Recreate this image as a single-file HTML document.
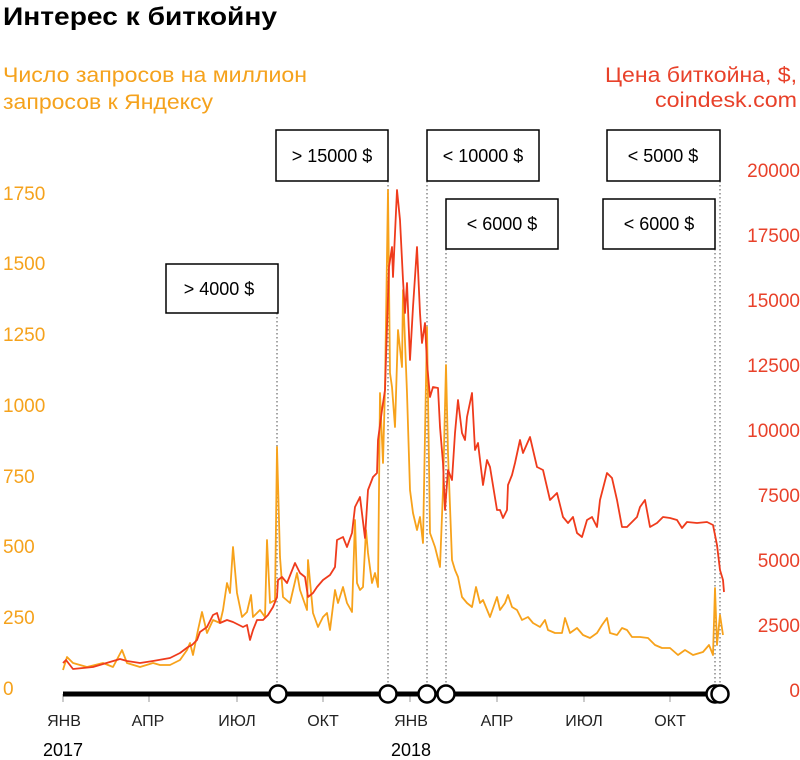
<!DOCTYPE html>
<html><head><meta charset="utf-8"><style>
html,body{margin:0;padding:0;background:#fff;}
svg{display:block;}
text{font-family:"Liberation Sans","Noto Sans CJK SC",sans-serif;}
</style></head><body>
<svg width="800" height="760" viewBox="0 0 800 760" xmlns="http://www.w3.org/2000/svg">
<rect width="800" height="760" fill="#fff"/>
<text x="3" y="25" font-size="25" font-weight="bold" fill="#000" textLength="274" lengthAdjust="spacingAndGlyphs">Интерес к биткойну</text>
<text x="3" y="82" font-size="21" fill="#f5a21c" textLength="304" lengthAdjust="spacingAndGlyphs">Число запросов на миллион</text>
<text x="3" y="109" font-size="21" fill="#f5a21c" textLength="210" lengthAdjust="spacingAndGlyphs">запросов к Яндексу</text>
<text x="797" y="82" font-size="21" fill="#e8412a" text-anchor="end" textLength="192" lengthAdjust="spacingAndGlyphs">Цена биткойна, $,</text>
<text x="797" y="107" font-size="21" fill="#e8412a" text-anchor="end" textLength="142" lengthAdjust="spacingAndGlyphs">coindesk.com</text>

<g font-size="19" fill="#f5a21c">
<text x="3" y="200">1750</text>
<text x="3" y="270">1500</text>
<text x="3" y="341">1250</text>
<text x="3" y="412">1000</text>
<text x="3" y="483">750</text>
<text x="3" y="553">500</text>
<text x="3" y="624">250</text>
<text x="3" y="695">0</text>
</g>
<g font-size="19" fill="#e8412a" text-anchor="end">
<text x="800" y="177">20000</text>
<text x="800" y="242">17500</text>
<text x="800" y="307">15000</text>
<text x="800" y="372">12500</text>
<text x="800" y="437">10000</text>
<text x="800" y="502">7500</text>
<text x="800" y="567">5000</text>
<text x="800" y="632">2500</text>
<text x="800" y="697">0</text>
</g>

<g stroke="#888" stroke-width="1.5" stroke-dasharray="1.5,2.5" fill="none">
<line x1="277" y1="313" x2="277" y2="694"/>
<line x1="388" y1="181" x2="388" y2="694"/>
<line x1="427" y1="181" x2="427" y2="694"/>
<line x1="446" y1="249" x2="446" y2="694"/>
<line x1="715" y1="249" x2="715" y2="694"/>
<line x1="720" y1="181" x2="720" y2="694"/>
</g>

<polyline fill="none" stroke="#f7a21b" stroke-width="1.8" stroke-linejoin="round" points="
63,670 67,657 73,663 87,667 103,663 113,667 122,650 127,663 140,667 153,663 160,665 170,665 180,660 187,650 190,643 193,655 198,630 202,612 207,633 213,620 220,623 223,610 227,583 230,593 233,547 237,593 242,617 247,612 251,595 253,617 260,610 265,617 267,540 270,603 275,600 277,447 280,557 283,597 290,603 297,573 300,590 307,610 308,560 313,613 318,627 323,617 327,613 330,630 335,590 338,603 343,587 347,603 352,612 355,520 357,583 360,590 363,587 366,530 368,553 372,583 375,573 378,587 380,393 383,463 385,387 388,190 390,373 392,387 395,427 398,330 402,367 403,290 407,393 410,490 413,513 417,530 420,517 423,543 427,327 430,533 435,547 440,567 443,490 446,365 448,453 452,560 455,570 458,577 462,597 467,603 472,607 476,587 480,603 483,600 490,617 497,597 500,610 505,603 508,595 512,607 517,610 522,620 528,617 533,623 540,627 545,620 548,630 555,633 562,633 565,618 570,633 577,628 583,635 590,638 597,633 602,625 607,618 610,633 617,635 622,628 627,630 632,637 640,637 648,638 655,645 662,648 670,648 678,655 685,650 693,655 703,652 709,645 713,655 715,588 717,645 720,615 723,635"/>

<polyline fill="none" stroke="#ef3b1c" stroke-width="1.8" stroke-linejoin="round" points="
63,663 66,660 73,669 93,667 120,659 127,661 140,663 153,661 170,658 180,653 188,647 192,645 197,640 200,632 207,627 213,615 217,613 220,623 227,620 233,622 243,627 247,625 250,640 253,630 257,620 263,620 268,615 273,607 277,597 278,580 282,577 287,583 295,563 300,573 305,577 308,597 313,593 317,587 323,580 330,575 335,567 337,540 343,537 347,547 352,533 355,507 360,497 365,538 368,490 373,477 377,473 378,440 382,410 385,390 387,327 389,267 392,247 393,277 397,190 400,220 403,280 405,313 407,283 410,360 413,307 417,247 420,313 422,343 425,323 427,363 430,397 433,387 438,388 440,427 443,463 445,510 448,470 452,480 455,433 458,400 462,433 465,440 467,417 472,393 475,450 478,443 483,485 487,460 490,467 497,510 500,510 503,518 507,510 508,485 512,475 515,463 520,440 523,453 530,437 537,467 543,470 550,500 557,493 563,517 568,523 573,517 577,533 582,537 587,520 592,517 597,527 600,500 607,473 612,478 617,500 622,527 627,527 632,522 637,517 640,507 645,500 650,527 657,523 663,517 670,518 677,520 682,528 687,522 697,523 707,522 713,525 717,545 720,570 723,580 724,592"/>

<g stroke="#999" stroke-width="1">
<line x1="63" y1="694" x2="63" y2="702"/>
<line x1="149" y1="694" x2="149" y2="702"/>
<line x1="237" y1="694" x2="237" y2="702"/>
<line x1="323" y1="694" x2="323" y2="702"/>
<line x1="410" y1="694" x2="410" y2="702"/>
<line x1="497" y1="694" x2="497" y2="702"/>
<line x1="584" y1="694" x2="584" y2="702"/>
<line x1="670" y1="694" x2="670" y2="702"/>
</g>
<line x1="63" y1="694" x2="720" y2="694" stroke="#000" stroke-width="5"/>
<g fill="#fff" stroke="#000" stroke-width="2.5">
<circle cx="278" cy="694" r="8.5"/>
<circle cx="388" cy="694" r="8.5"/>
<circle cx="427" cy="694" r="8.5"/>
<circle cx="446" cy="694" r="8.5"/>
<circle cx="715" cy="694" r="8.5"/>
<circle cx="720" cy="694" r="8.5"/>
</g>

<g font-size="16" fill="#222" text-anchor="middle">
<text x="64" y="726">ЯНВ</text>
<text x="148" y="726">АПР</text>
<text x="237" y="726">ИЮЛ</text>
<text x="323" y="726">ОКТ</text>
<text x="411" y="726">ЯНВ</text>
<text x="497" y="726">АПР</text>
<text x="584" y="726">ИЮЛ</text>
<text x="670" y="726">ОКТ</text>
</g>
<g font-size="18" fill="#000" text-anchor="middle">
<text x="63" y="756">2017</text>
<text x="411" y="756">2018</text>
</g>

<g fill="#fff" stroke="#000" stroke-width="1.5">
<rect x="166" y="264" width="112" height="49"/>
<rect x="276" y="130" width="112" height="51"/>
<rect x="427" y="130" width="112" height="51"/>
<rect x="607" y="130" width="113" height="51"/>
<rect x="446" y="199" width="112" height="50"/>
<rect x="603" y="199" width="112" height="50"/>
</g>
<g font-size="18" fill="#000" text-anchor="middle">
<text x="219" y="295">&gt; 4000 $</text>
<text x="332" y="162">&gt; 15000 $</text>
<text x="483" y="162">&lt; 10000 $</text>
<text x="663" y="162">&lt; 5000 $</text>
<text x="502" y="230">&lt; 6000 $</text>
<text x="659" y="230">&lt; 6000 $</text>
</g>
</svg>
</body></html>
